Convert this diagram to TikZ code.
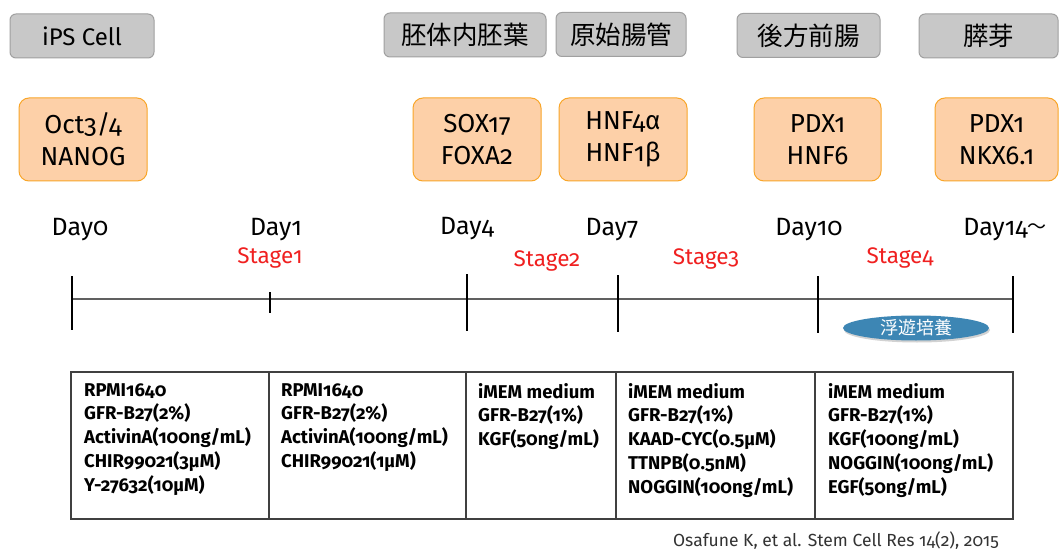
\documentclass[tikz,border=0pt]{standalone}
\usepackage{fontspec}
\setmainfont{Fira Sans}[Numbers=OldStyle]
\newfontfamily\cjk{Noto Sans CJK JP}
\usetikzlibrary{shapes.geometric,shadows}
\definecolor{boxgray}{HTML}{C8C8C8}
\definecolor{boxgrayline}{HTML}{A0A0A0}
\definecolor{peach}{HTML}{FDD0A8}
\definecolor{peachline}{HTML}{F9A62A}
\definecolor{ellblue}{HTML}{3D86B4}
\definecolor{axisgray}{HTML}{606060}
\definecolor{tablegray}{HTML}{404040}
\definecolor{stagered}{HTML}{F02020}
\begin{document}
\begin{tikzpicture}[x=1pt,y=-1pt,
  graybox/.style={draw=boxgrayline, fill=boxgray, rounded corners=6pt, line width=1pt, inner sep=0pt, minimum height=44pt, font=\cjk\fontsize{25.5}{28}\selectfont},
  markerbox/.style={draw=peachline, fill=peach, rounded corners=10pt, line width=1pt, inner sep=0pt, minimum height=83pt, align=center, font=\fontsize{26}{32}\selectfont},
  daylabel/.style={inner sep=0pt, font=\fontsize{25}{28}\selectfont},
  stagelabel/.style={inner sep=0pt, text=stagered, font=\fontsize{22.5}{24}\selectfont},
  axis/.style={draw=axisgray, line width=1.5pt},
  tickmark/.style={draw=black, line width=2pt},
  tableline/.style={draw=tablegray, line width=1.2pt},
  cell/.style={anchor=north west, align=left, inner sep=0pt, font=\bfseries\fontsize{18.5}{23.75}\selectfont},
]
\useasboundingbox[fill=white] (0,0) rectangle (1059,553);

% stage names
\node[graybox, minimum width=144pt, font=\fontsize{24}{28}\selectfont] (g0) at (82,36) {iPS Cell};
\node[graybox, minimum width=162pt] (g1) at (465,35) {胚体内胚葉};
\node[graybox, minimum width=130pt] (g2) at (621,34.5) {原始腸管};
\node[graybox, minimum width=143pt] (g3) at (808.5,35.5) {後方前腸};
\node[graybox, minimum width=139pt] (g4) at (988.5,36) {膵芽};

% markers
\node[markerbox, minimum width=128pt] (o0) at (83,139.5) {Oct3/4\\NANOG};
\node[markerbox, minimum width=128pt] (o1) at (477,139.5) {SOX17\\FOXA2};
\node[markerbox, minimum width=128pt] (o2) at (623,139.5) {HNF4α\\HNF1β};
\node[markerbox, minimum width=127pt] (o3) at (817.5,139.5) {PDX1\\HNF6};
\node[markerbox, minimum width=123pt] (o4) at (996.5,139.5) {PDX1\\NKX6.1};

% day labels
\node[daylabel] (d0) at (80,230) {Day0};
\node[daylabel] (d1) at (276,230) {Day1};
\node[daylabel] (d4) at (467,229) {Day4};
\node[daylabel] (d7) at (612,230) {Day7};
\node[daylabel] (d10) at (809,230) {Day10};
\node[daylabel] (d14) at (1005,230) {Day14{\cjk\fontsize{19}{20}\selectfont\raisebox{2pt}{〜}}};

% stage labels
\node[stagelabel] (s1) at (270,258) {Stage1};
\node[stagelabel] (s2) at (547,261) {Stage2};
\node[stagelabel] (s3) at (706,259) {Stage3};
\node[stagelabel] (s4) at (900,258) {Stage4};

% timeline
\coordinate (axL) at (72,299);
\coordinate (axR) at (1013,299);
\draw[axis] (axL) -- (axR);
\coordinate (t0a) at (72,276);  \coordinate (t0b) at (72,330);
\coordinate (t1a) at (270,292); \coordinate (t1b) at (270,313);
\coordinate (t4a) at (467,274); \coordinate (t4b) at (467,331);
\coordinate (t7a) at (618,275); \coordinate (t7b) at (618,332);
\coordinate (t10a) at (818,276); \coordinate (t10b) at (818,333);
\coordinate (t14a) at (1013,276); \coordinate (t14b) at (1013,333);
\draw[tickmark] (t0a) -- (t0b);
\draw[tickmark] (t1a) -- (t1b);
\draw[tickmark] (t4a) -- (t4b);
\draw[tickmark] (t7a) -- (t7b);
\draw[tickmark] (t10a) -- (t10b);
\draw[tickmark] (t14a) -- (t14b);

% suspension culture
\node[ellipse, fill=ellblue, minimum width=146pt, minimum height=25pt, inner sep=0pt, text=white,
      font=\cjk\fontsize{18}{20}\selectfont,
      drop shadow={opacity=0.35, shadow xshift=1pt, shadow yshift=-2pt}] (float) at (916,328) {浮遊培養};

% table
\coordinate (tabTL) at (71,372);
\coordinate (tabBR) at (1013,519);
\draw[tableline] (tabTL) rectangle (tabBR);
\coordinate (v1a) at (269,372); \coordinate (v1b) at (269,519);
\coordinate (v2a) at (466,372); \coordinate (v2b) at (466,519);
\coordinate (v3a) at (616,372); \coordinate (v3b) at (616,519);
\coordinate (v4a) at (815,372); \coordinate (v4b) at (815,519);
\draw[tableline] (v1a) -- (v1b);
\draw[tableline] (v2a) -- (v2b);
\draw[tableline] (v3a) -- (v3b);
\draw[tableline] (v4a) -- (v4b);

\node[cell] (c1) at (84,383) {RPMI1640\\GFR-B27(2\%)\\ActivinA(100ng/mL)\\CHIR99021(3μM)\\Y-27632(10μM)};
\node[cell] (c2) at (281,383) {RPMI1640\\GFR-B27(2\%)\\ActivinA(100ng/mL)\\CHIR99021(1μM)};
\node[cell] (c3) at (478,383) {iMEM medium\\GFR-B27(1\%)\\KGF(50ng/mL)};
\node[cell] (c4) at (628,383) {iMEM medium\\GFR-B27(1\%)\\KAAD-CYC(0.5μM)\\TTNPB(0.5nM)\\NOGGIN(100ng/mL)};
\node[cell] (c5) at (828,383) {iMEM medium\\GFR-B27(1\%)\\KGF(100ng/mL)\\NOGGIN(100ng/mL)\\EGF(50ng/mL)};

% citation
\node[inner sep=0pt, text=black!80, font=\fontsize{17.5}{20}\selectfont] (cite) at (836,541) {Osafune K, et al. Stem Cell Res 14(2), 2015};
\end{tikzpicture}
\end{document}
